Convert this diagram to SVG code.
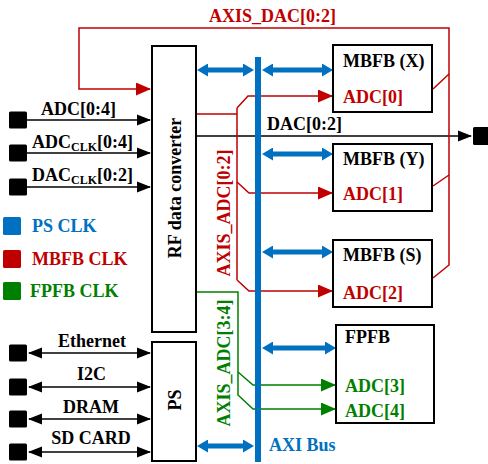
<svg xmlns="http://www.w3.org/2000/svg" width="488" height="464" viewBox="0 0 488 464">
<style>
text{font-family:"Liberation Serif","Times New Roman",serif;font-weight:bold;font-size:18px;fill:#000}
.r{fill:#C00000}.g{fill:#008000}.b{fill:#0070C0}
.box{fill:#fff;stroke:#000;stroke-width:2}
.thin{fill:none;stroke:#000;stroke-width:1.6}
.red{fill:none;stroke:#C00000;stroke-width:1.5}
.grn{fill:none;stroke:#008000;stroke-width:1.5}
.blu{fill:none;stroke:#0070C0;stroke-width:5}
.sq{fill:#000}
</style>
<defs>
<marker id="ab" markerUnits="userSpaceOnUse" markerWidth="14" markerHeight="12" refX="13" refY="6" orient="auto-start-reverse"><path d="M0,0.5 L14,6 L0,11.5 z" fill="#000"/></marker>
<marker id="ar" markerUnits="userSpaceOnUse" markerWidth="15" markerHeight="13" refX="14" refY="6.5" orient="auto"><path d="M0,0 L15,6.5 L0,13 z" fill="#C00000"/></marker>
<marker id="ag" markerUnits="userSpaceOnUse" markerWidth="15" markerHeight="13" refX="14" refY="6.5" orient="auto"><path d="M0,0 L15,6.5 L0,13 z" fill="#008000"/></marker>
<marker id="bb" markerUnits="userSpaceOnUse" markerWidth="11" markerHeight="13" refX="4" refY="6.5" orient="auto-start-reverse"><path d="M0,0 L11,6.5 L0,13 z" fill="#0070C0"/></marker>
</defs>

<g id="connectors">
  <!-- left inputs -->
  <line class="thin" x1="27" y1="120" x2="150" y2="120" marker-end="url(#ab)"/>
  <line class="thin" x1="27" y1="153" x2="150" y2="153" marker-end="url(#ab)"/>
  <line class="thin" x1="27" y1="187" x2="150" y2="187" marker-end="url(#ab)"/>
  <!-- PS peripherals -->
  <line class="thin" x1="29" y1="353" x2="150" y2="353" marker-start="url(#ab)" marker-end="url(#ab)"/>
  <line class="thin" x1="29" y1="387" x2="150" y2="387" marker-start="url(#ab)" marker-end="url(#ab)"/>
  <line class="thin" x1="29" y1="419" x2="150" y2="419" marker-start="url(#ab)" marker-end="url(#ab)"/>
  <line class="thin" x1="29" y1="452" x2="150" y2="452" marker-start="url(#ab)" marker-end="url(#ab)"/>
  <!-- DAC out -->
  <line class="thin" x1="196" y1="136" x2="471" y2="136" marker-end="url(#ab)"/>
  <!-- AXIS_DAC -->
  <path class="red" d="M433,278 L449,265 L449,28 L79,28 L79,89 L150,89" marker-end="url(#ar)"/>
  <path class="red" d="M433,89 L449,74 M433,186 L449,175"/>
  <!-- AXIS_ADC[0:2] -->
  <path class="red" d="M196,114 L237,114 M237,108 L237,280"/>
  <path class="red" d="M237,108 L248,96 L332,96" marker-end="url(#ar)"/>
  <path class="red" d="M237,182 L249,193 L332,193" marker-end="url(#ar)"/>
  <path class="red" d="M237,280 L249,291 L332,291" marker-end="url(#ar)"/>
  <!-- AXIS_ADC[3:4] -->
  <path class="grn" d="M196,292 L238,292 L238,395 L253,409 L335,409" marker-end="url(#ag)"/>
  <path class="grn" d="M238,372 L253,385 L335,385" marker-end="url(#ag)"/>
</g>

<g id="axi_bus">
  <rect x="255" y="57" width="6" height="405" fill="#0070C0"/>
  <text class="b" x="269" y="451">AXI Bus</text>
</g>

<g id="bus_links">
  <line class="blu" x1="204" y1="70" x2="247" y2="70" marker-start="url(#bb)" marker-end="url(#bb)"/>
  <line class="blu" x1="269" y1="70" x2="326" y2="70" marker-start="url(#bb)" marker-end="url(#bb)"/>
  <line class="blu" x1="269" y1="154" x2="326" y2="154" marker-start="url(#bb)" marker-end="url(#bb)"/>
  <line class="blu" x1="269" y1="252" x2="326" y2="252" marker-start="url(#bb)" marker-end="url(#bb)"/>
  <line class="blu" x1="269" y1="348" x2="329" y2="348" marker-start="url(#bb)" marker-end="url(#bb)"/>
  <line class="blu" x1="204" y1="446" x2="247" y2="446" marker-start="url(#bb)" marker-end="url(#bb)"/>
</g>

<g id="labels">
  <text class="r" transform="translate(209,22) scale(1,1.1)">AXIS_DAC[0:2]</text>
  <text transform="translate(267,130) scale(1,1.1)">DAC[0:2]</text>
  <text class="r" transform="translate(230,213) rotate(-90)" text-anchor="middle">AXIS_ADC[0:2]</text>
  <text class="g" transform="translate(230,363) rotate(-90)" text-anchor="middle">AXIS_ADC[3:4]</text>
  <text transform="translate(41,115) scale(1,1.1)">ADC[0:4]</text>
  <text transform="translate(32,148) scale(1,1.1)">ADC<tspan font-size="12" dy="3">CLK</tspan><tspan dy="-3">[0:4]</tspan></text>
  <text transform="translate(32,181) scale(1,1.1)">DAC<tspan font-size="12" dy="3">CLK</tspan><tspan dy="-3">[0:2]</tspan></text>
  <text transform="translate(92,347) scale(1,1.1)" text-anchor="middle">Ethernet</text>
  <text transform="translate(91.5,380) scale(1,1.1)" text-anchor="middle">I2C</text>
  <text transform="translate(91,413) scale(1,1.1)" text-anchor="middle">DRAM</text>
  <text transform="translate(91,444) scale(1,1.1)" text-anchor="middle">SD CARD</text>
</g>

<g id="ports">
  <rect class="sq" x="9" y="111.5" width="18" height="17" rx="1.5"/>
  <rect class="sq" x="9" y="144.5" width="18" height="17" rx="1.5"/>
  <rect class="sq" x="9" y="178.5" width="18" height="17" rx="1.5"/>
  <rect class="sq" x="9" y="344.5" width="18" height="17" rx="1.5"/>
  <rect class="sq" x="9" y="378.5" width="18" height="17" rx="1.5"/>
  <rect class="sq" x="9" y="410.5" width="18" height="17" rx="1.5"/>
  <rect class="sq" x="9" y="443.5" width="18" height="17" rx="1.5"/>
  <rect class="sq" x="473" y="127" width="16" height="18" rx="1.5"/>
</g>

<g id="legend">
  <rect x="3" y="217" width="18" height="18" rx="1.5" fill="#0070C0"/>
  <text class="b" transform="translate(32,232) scale(1,1.1)">PS CLK</text>
  <rect x="3" y="250" width="18" height="18" rx="1.5" fill="#C00000"/>
  <text class="r" transform="translate(32,265) scale(1,1.1)">MBFB CLK</text>
  <rect x="3" y="282" width="18" height="18" rx="1.5" fill="#008000"/>
  <text class="g" transform="translate(30,297) scale(1,1.1)">FPFB CLK</text>
</g>

<g id="rf_data_converter">
  <rect class="box" x="152" y="46" width="44" height="286"/>
  <text transform="translate(181,188) rotate(-90)" text-anchor="middle">RF data converter</text>
</g>

<g id="ps">
  <rect class="box" x="152" y="342" width="44" height="119"/>
  <text transform="translate(181,400) rotate(-90)" text-anchor="middle">PS</text>
</g>

<g id="mbfb_x">
  <rect class="box" x="333" y="45" width="99" height="67"/>
  <text transform="translate(343,67) scale(1,1.1)">MBFB (X)</text>
  <text class="r" transform="translate(343,103) scale(1,1.1)">ADC[0]</text>
</g>

<g id="mbfb_y">
  <rect class="box" x="333" y="144" width="99" height="67"/>
  <text transform="translate(343,165) scale(1,1.1)">MBFB (Y)</text>
  <text class="r" transform="translate(343,200) scale(1,1.1)">ADC[1]</text>
</g>

<g id="mbfb_s">
  <rect class="box" x="333" y="240" width="99" height="67"/>
  <text transform="translate(343,261) scale(1,1.1)">MBFB (S)</text>
  <text class="r" transform="translate(343,299) scale(1,1.1)">ADC[2]</text>
</g>

<g id="fpfb">
  <rect class="box" x="336" y="325" width="98" height="98"/>
  <text transform="translate(345,343) scale(1,1.1)">FPFB</text>
  <text class="g" transform="translate(345,392) scale(1,1.1)">ADC[3]</text>
  <text class="g" transform="translate(345,417) scale(1,1.1)">ADC[4]</text>
</g>
</svg>
